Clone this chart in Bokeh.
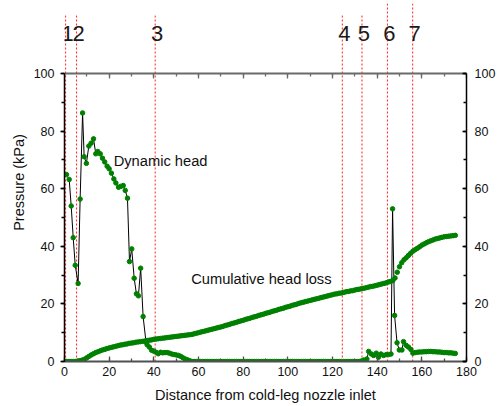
from bokeh.plotting import figure
from bokeh.models import (Range1d, LinearAxis, SingleIntervalTicker,
                          LabelSet, Label, ColumnDataSource, CustomJSTickFormatter)
from bokeh.core.properties import value
from bokeh.embed import file_html
from bokeh.resources import INLINE

FONT = "Liberation Sans"
GREEN = "#008000"

# ---- data -------------------------------------------------------------
# positions of the numbered locations (distance from cold-leg nozzle inlet)
marker_pos = [0.5, 5.4, 40.6, 124.4, 133.2, 144.6, 155.9]
marker_labels = ["1", "2", "3", "4", "5", "6", "7"]

# Dynamic head (kPa)
dyn_x = [0.9, 2.1, 3.0, 3.9, 4.8, 6.1, 7.0, 8.1, 8.8, 9.8,
         10.9, 11.9, 13.0, 14.0, 14.9, 16.0, 17.0, 18.0, 19.1, 20.0,
         21.0, 22.1, 23.0, 24.2, 25.2, 26.3, 27.2, 28.2, 29.1, 30.1,
         31.2, 32.2, 33.1, 34.1, 35.2, 36.5,
         37, 38, 39, 40, 41, 42, 43, 44, 45, 46,
         47, 48, 49, 50, 51, 52, 53, 54, 55, 56,
         57, 58, 59, 60, 61, 62, 63, 64, 65, 66,
         67, 68, 69, 70, 71, 72, 73, 74, 75, 76,
         77, 78, 79, 80, 81, 82, 83, 84, 85, 86,
         87, 88, 89, 90, 91, 92, 93, 94, 95, 96,
         97, 98, 99, 100, 101, 102, 103, 104, 105, 106,
         107, 108, 109, 110, 111, 112, 113, 114, 115, 116,
         117, 118, 119, 120, 121, 122, 123, 124, 125, 126,
         127, 128, 129, 130, 131, 132,
         133, 134, 135.4, 136.2, 137.4, 138.4, 139.6, 140.6, 141.7, 142.9,
         144.1, 145.1, 146.2, 146.9, 147.8, 148.9, 149.9, 151.1, 151.8, 153.0,
         154.0, 155.1, 156.0, 157.0, 158, 159, 160, 161, 162, 163,
         164, 165, 166, 167, 168, 169, 170, 171, 172, 173,
         174, 175]
dyn_y = [64.9, 63.2, 54.0, 43.0, 33.4, 27.1, 56.4, 86.3, 71.1, 68.8,
         74.8, 75.8, 77.3, 72.1, 72.9, 72.1, 70.6, 69.3, 67.8, 66.9,
         65.4, 63.4, 62.0, 60.5, 60.8, 61.1, 59.4, 56.7, 34.7, 39.1,
         28.9, 23.5, 22.8, 32.4, 15.6, 6.7,
         5.8, 5.0, 3.9, 3.6, 3.2, 2.7, 3.2, 3.0, 3.1, 3.1,
         2.9, 2.6, 2.4, 2.3, 2.1, 1.8, 1.3, 0.9, 0.6, 0.3,
         0.0, 0.0, 0.0, 0.0, 0.0, 0.0, 0.0, 0.0, 0.0, 0.0,
         0.0, 0.0, 0.0, 0.0, 0.0, 0.0, 0.0, 0.0, 0.0, 0.0,
         0.0, 0.0, 0.0, 0.0, 0.0, 0.0, 0.0, 0.0, 0.0, 0.0,
         0.0, 0.0, 0.0, 0.0, 0.0, 0.0, 0.0, 0.0, 0.0, 0.0,
         0.0, 0.0, 0.0, 0.0, 0.0, 0.0, 0.0, 0.0, 0.0, 0.0,
         0.0, 0.0, 0.0, 0.0, 0.0, 0.0, 0.0, 0.0, 0.0, 0.0,
         0.0, 0.0, 0.0, 0.0, 0.0, 0.0, 0.0, 0.0, 0.0, 0.0,
         0.0, 0.0, 0.0, 0.0, 0.0, 0.0,
         0.2, 0.5, 0.9, 3.5, 2.6, 2.1, 2.9, 1.5, 2.6, 2.1,
         2.4, 2.4, 2.6, 53.0, 16.0, 6.5, 4.0, 4.0, 6.9, 5.6,
         5.0, 4.2, 2.9, 3.1, 3.2, 3.3, 3.3, 3.4, 3.4, 3.5,
         3.5, 3.4, 3.4, 3.3, 3.3, 3.2, 3.1, 3.1, 3.0, 3.0,
         2.9, 2.8]

# Cumulative head loss (kPa)
cum_x = [0, 1, 2, 3, 4, 5, 6, 7, 8, 9,
         10, 11, 12, 13, 14, 15, 16, 17, 18, 19,
         20, 21, 22, 23, 24, 25, 26, 27, 28, 29,
         30, 31, 32, 33, 34, 35, 36, 37, 38, 39,
         40, 41, 42, 43, 44, 45, 46, 47, 48, 49,
         50, 51, 52, 53, 54, 55, 56, 57, 58, 59,
         60, 61, 62, 63, 64, 65, 66, 67, 68, 69,
         70, 71, 72, 73, 74, 75, 76, 77, 78, 79,
         80, 81, 82, 83, 84, 85, 86, 87, 88, 89,
         90, 91, 92, 93, 94, 95, 96, 97, 98, 99,
         100, 101, 102, 103, 104, 105, 106, 107, 108, 109,
         110, 111, 112, 113, 114, 115, 116, 117, 118, 119,
         120, 121, 122, 123, 124, 125, 126, 127, 128, 129,
         130, 131, 132, 133, 134, 135, 136, 137, 138, 139,
         140, 141, 142, 143, 144, 145, 146, 147, 148, 149,
         150, 151, 152, 153, 154, 155, 156, 157, 158, 159,
         160, 161, 162, 163, 164, 165, 166, 167, 168, 169,
         170, 171, 172, 173, 174, 175]
cum_y = [0.0, 0.0, 0.0, 0.0, 0.0, 0.0, 0.2, 0.3, 0.5, 0.8,
         1.3, 1.8, 2.3, 2.7, 3.1, 3.4, 3.7, 4.0, 4.2, 4.5,
         4.7, 4.9, 5.1, 5.3, 5.5, 5.7, 5.8, 6.0, 6.1, 6.3,
         6.4, 6.5, 6.7, 6.8, 6.9, 7.0, 7.1, 7.3, 7.4, 7.5,
         7.7, 7.8, 7.9, 8.0, 8.1, 8.2, 8.3, 8.4, 8.5, 8.6,
         8.7, 8.8, 8.9, 9.0, 9.1, 9.2, 9.3, 9.4, 9.6, 9.8,
         10.0, 10.2, 10.4, 10.6, 10.8, 11.0, 11.2, 11.4, 11.6, 11.8,
         12.0, 12.2, 12.5, 12.7, 12.9, 13.2, 13.4, 13.6, 13.9, 14.1,
         14.3, 14.6, 14.8, 15.0, 15.3, 15.5, 15.7, 16.0, 16.2, 16.4,
         16.7, 16.9, 17.1, 17.4, 17.6, 17.8, 18.1, 18.3, 18.5, 18.8,
         19.0, 19.2, 19.5, 19.7, 19.9, 20.2, 20.4, 20.6, 20.8, 21.0,
         21.2, 21.4, 21.6, 21.8, 22.0, 22.2, 22.4, 22.6, 22.8, 23.0,
         23.2, 23.4, 23.5, 23.7, 23.8, 24.0, 24.2, 24.3, 24.5, 24.6,
         24.8, 25.0, 25.1, 25.3, 25.4, 25.6, 25.8, 26.0, 26.1, 26.3,
         26.5, 26.7, 26.9, 27.1, 27.3, 27.6, 27.8, 28.1, 29.0, 31.0,
         32.9, 34.3, 35.3, 36.0, 36.8, 37.6, 38.3, 38.8, 39.3, 39.8,
         40.4, 40.8, 41.2, 41.6, 41.9, 42.2, 42.5, 42.7, 42.9, 43.1,
         43.3, 43.4, 43.5, 43.6, 43.7, 43.8]

x_ticks_interval = 20
y_ticks_interval = 20

# ---- figure -----------------------------------------------------------
# y range extends above 100 so the location markers can rise above the box
p = figure(width=498, height=406,
           x_range=Range1d(0, 180), y_range=Range1d(0, 124.3),
           output_backend="svg", toolbar_location=None,
           x_axis_location=None, y_axis_location=None,
           min_border_left=64, min_border_right=31,
           min_border_top=3, min_border_bottom=45)
p.outline_line_color = None
p.xgrid.visible = False
p.ygrid.visible = False
p.background_fill_color = "white"
p.border_fill_color = "white"


def style_axis(ax, line_color, line_width, t_in, t_out, m_in, m_out):
    ax.axis_line_color = line_color
    ax.axis_line_width = line_width
    ax.major_tick_line_color = line_color
    ax.minor_tick_line_color = line_color
    ax.major_tick_line_width = 1.3
    ax.minor_tick_line_width = 1.3
    ax.major_tick_in = t_in
    ax.major_tick_out = t_out
    ax.minor_tick_in = m_in
    ax.minor_tick_out = m_out
    ax.major_label_text_font = FONT
    ax.major_label_text_font_size = "12.5px"
    ax.major_label_text_color = "#111111"
    ax.axis_label_text_font = FONT
    ax.axis_label_text_font_size = "14.5px"
    ax.axis_label_text_font_style = "normal"
    ax.axis_label_text_color = "#111111"


bottom = LinearAxis(ticker=SingleIntervalTicker(interval=x_ticks_interval, num_minor_ticks=2),
                    axis_label="Distance from cold-leg nozzle inlet")
style_axis(bottom, "#505050", 2, 5, 0, 3, 0)
bottom.major_label_standoff = 5
bottom.axis_label_standoff = 8
p.add_layout(bottom, "below")

top = LinearAxis(ticker=SingleIntervalTicker(interval=x_ticks_interval, num_minor_ticks=2),
                 formatter=CustomJSTickFormatter(code="return ''"),
                 fixed_location=100)
style_axis(top, "#6a6a6a", 2, 5, 0, 3, 0)
top.major_label_text_font_size = "0px"
top.major_label_standoff = 0
p.add_layout(top, "above")

left = LinearAxis(ticker=SingleIntervalTicker(interval=y_ticks_interval, num_minor_ticks=2),
                  axis_label="Pressure (kPa)", bounds=(0, 100))
style_axis(left, "black", 1.5, 0, 4, 0, 3)
left.major_label_standoff = 6
left.axis_label_standoff = 4
p.add_layout(left, "left")

right = LinearAxis(ticker=SingleIntervalTicker(interval=y_ticks_interval, num_minor_ticks=2),
                   bounds=(0, 100))
style_axis(right, "black", 1.5, 4, 0, 3, 0)
right.major_label_standoff = 8
p.add_layout(right, "right")

# ---- numbered locations (red dotted lines + labels) -------------------
msrc = ColumnDataSource(dict(x=marker_pos, label=marker_labels,
                             top=[120.1, 120.1, 120.1, 120.1, 120.1, 124.3, 124.3]))
p.segment(x0="x", y0=0, x1="x", y1="top", source=msrc,
          line_color="#ff2020", line_dash="2 2", line_width=1)
p.add_layout(LabelSet(source=msrc, x="x", y=113.9, text="label", x_offset=2,
                      text_align="center", text_baseline="middle",
                      text_font=value(FONT), text_font_size="22px", text_color="#1a1a1a"))

# ---- data marks -------------------------------------------------------
p.line(dyn_x, dyn_y, line_color="black", line_width=1)
p.scatter(cum_x, cum_y, marker="circle", size=4.5, fill_color=GREEN, line_color=GREEN)
p.scatter(dyn_x, dyn_y, marker="circle", size=4.5, fill_color=GREEN, line_color=GREEN)

p.add_layout(Label(x=22, y=69.5, text="Dynamic head", text_baseline="middle",
                   text_font=FONT, text_font_size="14.7px", text_color="#111111"))
p.add_layout(Label(x=56.7, y=28.5, text="Cumulative head loss", text_baseline="middle",
                   text_font=FONT, text_font_size="14.7px", text_color="#111111"))

open("out.html", "w").write(file_html(p, INLINE))
